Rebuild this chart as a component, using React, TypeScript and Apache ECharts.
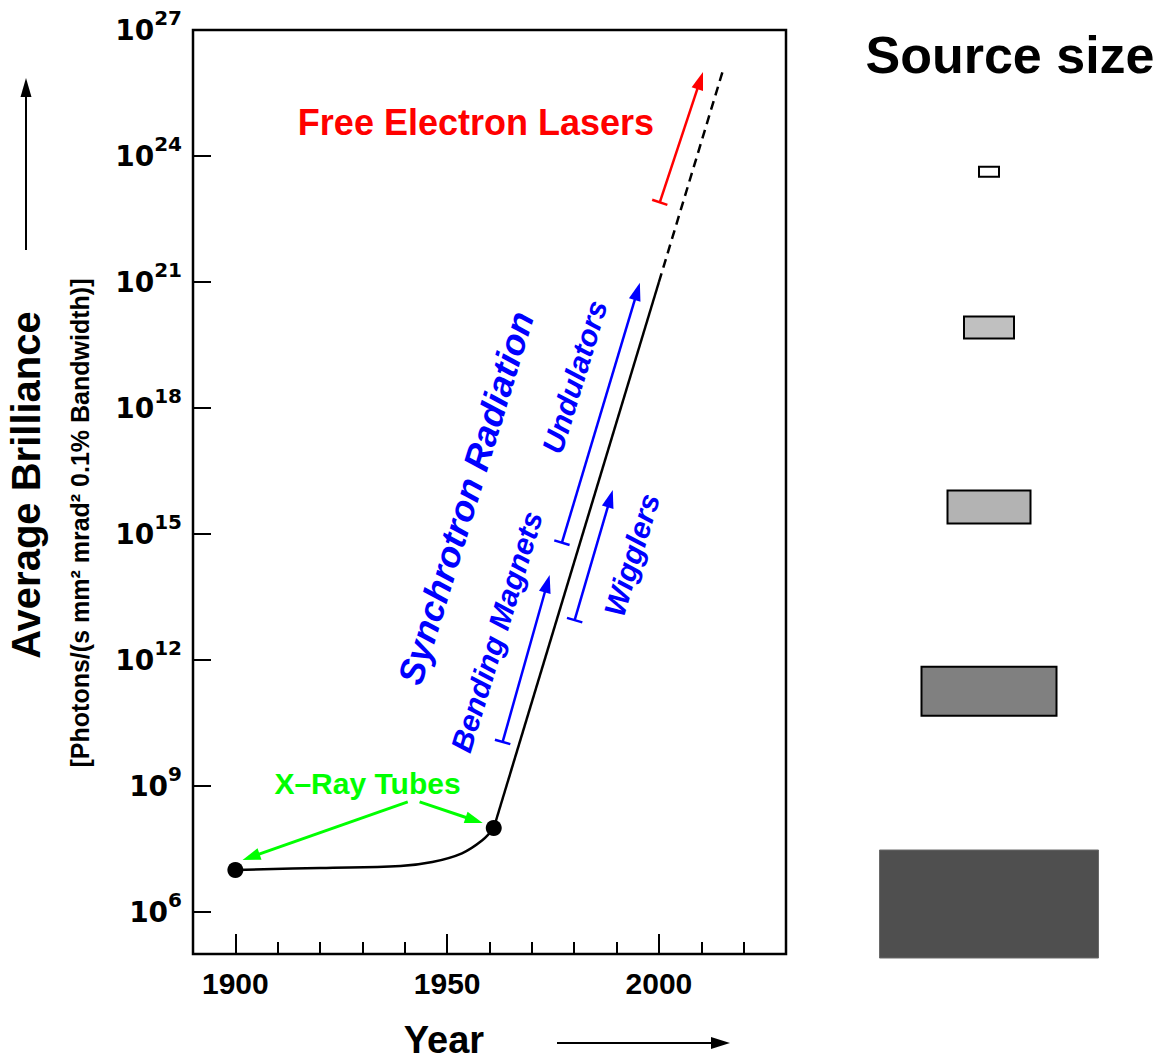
import React, { useEffect, useRef } from 'react';
import * as echarts from 'echarts';

const FONT = '"Liberation Sans", Arial, Helvetica, sans-serif';
const TICK_FONT = '"DejaVu Sans", "Liberation Sans", Arial, sans-serif';

// Axis ticks / labels
const yearMajorTicks = [1900, 1950, 2000];
const brillianceTickExponents = [6, 9, 12, 15, 18, 21, 24];
const brillianceLabelExponents = [6, 9, 12, 15, 18, 21, 24, 27];

// Main curve (year, average brilliance)
const xrayTubeCurve: number[][] = [
  [1900, 1.0e7], [1920, 1.12e7], [1939, 1.25e7], [1946.5, 1.55e7],
  [1953.5, 2.5e7], [1958.3, 5.1e7], [1961, 1.0e8],
];
const synchrotronLine: number[][] = [[1961, 1.0e8], [2000, 1.0e21]];
const felExtrapolation: number[][] = [[2000, 1.0e21], [2015, 1.0e26]];
const tubeDots: number[][] = [[1900, 1.0e7], [1961, 1.0e8]];

// Annotation arrows (from -> to)
const arrowFrom: number[][] = [
  [1940.7, 4.2e8], [1943.5, 4.2e8], [1963.1, 1.12e10], [1977.1, 6.2e14], [1980.1, 8.9e12], [2000.2, 7.9e22],
];
const arrowTo: number[][] = [
  [1901.7, 1.73e7], [1958.4, 1.31e8], [1974.2, 1.05e14], [1995.5, 9.6e20], [1989.1, 1.12e16], [2010.4, 1.0e26],
];
const arrowCap = [false, false, true, true, true, true];
const arrowColor = ['#00ff00', '#00ff00', '#0000ff', '#0000ff', '#0000ff', '#ff0000'];

// Annotation texts
const labelTexts = ['Free Electron Lasers', 'X–Ray Tubes', 'Synchrotron Radiation', 'Bending Magnets', 'Undulators', 'Wigglers'];
const labelPos: number[][] = [
  [1956.8, 6.3e24], [1931.2, 1.17e9], [1954.4, 7.2e15], [1961.7, 4.7e12], [1980.1, 5.5e18], [1993.6, 3.2e14],
];
const labelAngle = [0, 0, 73, 73, 73, 73];
const labelColor = ['#ff0000', '#00ff00', '#0000ff', '#0000ff', '#0000ff', '#0000ff'];
const labelSize = [36, 30, 36, 30, 30, 30];
const labelItalic = [false, false, true, true, true, true];

// Source sizes (level on brilliance scale, width, height in size units)
const sourceLevel = [4.2e23, 8.3e19, 4.4e15, 1.8e11, 1.55e6];
const sourceWidth = [20, 50, 83, 135, 219];
const sourceHeight = [10, 22, 33, 49, 108];
const sourceFill = ['#ffffff', '#c0c0c0', '#b3b3b3', '#808080', '#4f4f4f'];
const sourceStroke = ['#000000', '#000000', '#000000', '#000000', '#6a6a6a'];

export default function App() {
  const ref = useRef<HTMLDivElement>(null);
  useEffect(() => {
    if (!ref.current) return;
    const chart = echarts.init(ref.current, null, { renderer: 'svg' });

    const arrowData = arrowFrom.map((f, i) => [f[0], f[1], arrowTo[i][0], arrowTo[i][1]]);
    const labelData = labelTexts.map((t, i) => ({
      value: labelPos[i],
      name: t,
      label: {
        rotate: labelAngle[i],
        color: labelColor[i],
        fontSize: labelSize[i],
        fontStyle: labelItalic[i] ? 'italic' : 'normal',
      },
    }));
    const sourceData = sourceLevel.map((lv, i) => [0, lv, sourceWidth[i], sourceHeight[i]]);

    const option: any = {
      animation: false,
      backgroundColor: '#ffffff',
      grid: [
        { left: 193, top: 30, width: 593, height: 924, show: true, borderColor: '#000', borderWidth: 2.5, backgroundColor: 'transparent' },
        { left: 879, top: 30, width: 220, height: 924, show: false },
      ],
      xAxis: [
        {
          gridIndex: 0, type: 'value', min: 1890, max: 2030, interval: 10, position: 'bottom',
          axisLine: { show: false },
          axisTick: { show: true, inside: true, length: 12, lineStyle: { color: '#000', width: 2 } },
          axisLabel: {
            customValues: yearMajorTicks, formatter: (v: number) => String(v),
            color: '#000', fontSize: 30, fontWeight: 'bold', fontFamily: FONT, margin: 14,
          },
          splitLine: { show: false },
        },
        {
          gridIndex: 0, type: 'value', min: 1890, max: 2030, position: 'bottom',
          axisLine: { show: false },
          axisTick: { show: true, inside: true, length: 20, customValues: yearMajorTicks, lineStyle: { color: '#000', width: 2 } },
          axisLabel: { show: false },
          splitLine: { show: false },
        },
        { gridIndex: 1, type: 'value', min: -110, max: 110, show: false },
      ],
      yAxis: [
        { gridIndex: 0, type: 'log', logBase: 10, min: 1e5, max: 1e27, show: false },
        {
          gridIndex: 0, type: 'value', min: 5, max: 27, position: 'left',
          axisLine: { show: false },
          axisTick: { show: true, inside: true, length: 18, customValues: brillianceTickExponents, lineStyle: { color: '#000', width: 2 } },
          axisLabel: {
            customValues: brillianceLabelExponents,
            margin: 11,
            formatter: (v: number) => `{b|10}{e|${v}}`,
            rich: {
              b: { fontSize: 28, fontWeight: 'bold', fontFamily: TICK_FONT, color: '#000', lineHeight: 44 },
              e: { fontSize: 20, fontWeight: 'bold', fontFamily: TICK_FONT, color: '#000', lineHeight: 20, verticalAlign: 'top' },
            },
          },
          splitLine: { show: false },
        },
        { gridIndex: 1, type: 'log', logBase: 10, min: 1e5, max: 1e27, show: false },
      ],
      graphic: [
        {
          type: 'text', x: 26, y: 485, rotation: Math.PI / 2,
          style: { text: 'Average Brilliance', fill: '#000', fontSize: 40, fontWeight: 'bold', fontFamily: FONT, align: 'center', verticalAlign: 'middle' },
        },
        {
          type: 'text', x: 80, y: 523, rotation: Math.PI / 2,
          style: { text: '[Photons/(s mm² mrad² 0.1% Bandwidth)]', fill: '#000', fontSize: 25, fontWeight: 'bold', fontFamily: FONT, align: 'center', verticalAlign: 'middle' },
        },
        { type: 'line', shape: { x1: 26, y1: 250, x2: 26, y2: 94 }, style: { stroke: '#000', lineWidth: 2 } },
        { type: 'polygon', shape: { points: [[26, 78], [20.5, 97], [31.5, 97]] }, style: { fill: '#000' } },
        {
          type: 'text', x: 444, y: 1040,
          style: { text: 'Year', fill: '#000', fontSize: 38, fontWeight: 'bold', fontFamily: FONT, align: 'center', verticalAlign: 'middle' },
        },
        { type: 'line', shape: { x1: 557, y1: 1043, x2: 714, y2: 1043 }, style: { stroke: '#000', lineWidth: 2 } },
        { type: 'polygon', shape: { points: [[730, 1043], [711, 1037], [711, 1049]] }, style: { fill: '#000' } },
        {
          type: 'text', x: 1010, y: 55,
          style: { text: 'Source size', fill: '#000', fontSize: 52, fontWeight: 'bold', fontFamily: FONT, align: 'center', verticalAlign: 'middle' },
        },
      ],
      series: [
        {
          type: 'line', xAxisIndex: 0, yAxisIndex: 0, data: xrayTubeCurve, smooth: 0.4,
          showSymbol: false, symbol: 'none', lineStyle: { color: '#000', width: 2.5 }, silent: true,
        },
        {
          type: 'line', xAxisIndex: 0, yAxisIndex: 0, data: synchrotronLine,
          showSymbol: false, symbol: 'none', lineStyle: { color: '#000', width: 2.5 }, silent: true,
        },
        {
          type: 'line', xAxisIndex: 0, yAxisIndex: 0, data: felExtrapolation,
          showSymbol: false, symbol: 'none', lineStyle: { color: '#000', width: 2.5, type: [9, 6] }, silent: true,
        },
        {
          type: 'scatter', xAxisIndex: 0, yAxisIndex: 0, data: tubeDots, symbol: 'circle', symbolSize: 16,
          itemStyle: { color: '#000', opacity: 1 }, silent: true, z: 5,
        },
        {
          type: 'custom', xAxisIndex: 0, yAxisIndex: 0, data: arrowData, silent: true, z: 4,
          renderItem: (params: any, api: any) => {
            const i = params.dataIndex;
            const p1 = api.coord([api.value(0), api.value(1)]);
            const p2 = api.coord([api.value(2), api.value(3)]);
            const dx = p2[0] - p1[0];
            const dy = p2[1] - p1[1];
            const len = Math.hypot(dx, dy) || 1;
            const ux = dx / len, uy = dy / len;
            const nx = -uy, ny = ux;
            const headL = 18, headW = 6, cap = 8;
            const color = arrowColor[i];
            const lw = i < 2 ? 3 : 2.5;
            const bx = p2[0] - ux * headL, by = p2[1] - uy * headL;
            const children: any[] = [
              { type: 'line', shape: { x1: p1[0], y1: p1[1], x2: bx + ux * 2, y2: by + uy * 2 }, style: { stroke: color, lineWidth: lw } },
              { type: 'polygon', shape: { points: [[p2[0], p2[1]], [bx + nx * headW, by + ny * headW], [bx - nx * headW, by - ny * headW]] }, style: { fill: color } },
            ];
            if (arrowCap[i]) {
              children.push({
                type: 'line',
                shape: { x1: p1[0] + nx * cap, y1: p1[1] + ny * cap, x2: p1[0] - nx * cap, y2: p1[1] - ny * cap },
                style: { stroke: color, lineWidth: lw },
              });
            }
            return { type: 'group', children };
          },
        },
        {
          type: 'scatter', xAxisIndex: 0, yAxisIndex: 0, data: labelData, symbolSize: 1,
          itemStyle: { color: 'rgba(0,0,0,0)', opacity: 1 }, silent: true, z: 6,
          label: { show: true, position: 'inside', formatter: '{b}', fontWeight: 'bold', fontFamily: FONT, opacity: 1 },
        },
        {
          type: 'custom', xAxisIndex: 2, yAxisIndex: 2, data: sourceData, silent: true,
          renderItem: (params: any, api: any) => {
            const i = params.dataIndex;
            const lv = api.value(1);
            const c = api.coord([0, lv]);
            const w = api.coord([api.value(2) / 2, lv])[0] - api.coord([-api.value(2) / 2, lv])[0];
            const h = api.coord([api.value(3) / 2, lv])[0] - api.coord([-api.value(3) / 2, lv])[0];
            return {
              type: 'rect',
              shape: { x: c[0] - w / 2, y: c[1] - h / 2, width: w, height: h },
              style: { fill: sourceFill[i], stroke: sourceStroke[i], lineWidth: i < 4 ? 2 : 1 },
            };
          },
        },
      ],
    };
    chart.setOption(option);
    return () => chart.dispose();
  }, []);
  return <div ref={ref} style={{ position: 'fixed', left: 0, top: 0, width: 1162, height: 1063, background: '#fff' }} />;
}
